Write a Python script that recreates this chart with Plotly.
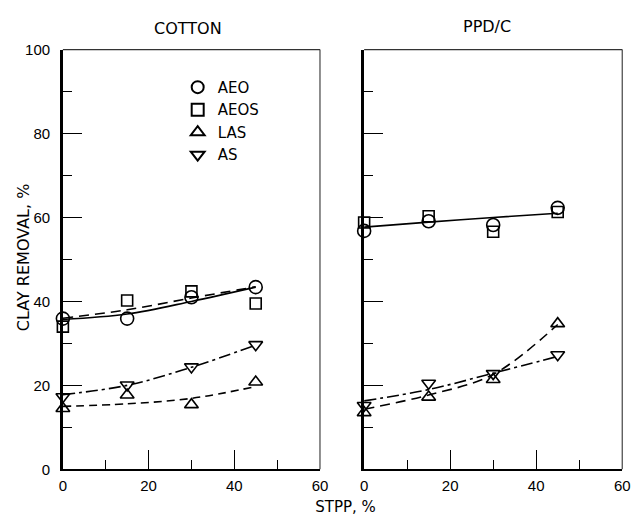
import plotly.graph_objects as go

# ---------------- data ----------------
stpp = [0, 15, 30, 45]

# COTTON panel (measured)
cot_aeo = [35.9, 35.9, 41.0, 43.4]
cot_aeos = [34.0, 40.2, 42.4, 39.5]
cot_las = [14.5, 17.7, 15.4, 20.8]
cot_as = [17.3, 20.1, 24.4, 29.7]
# COTTON panel (fitted curves)
cot_fit_aeo = [35.7, 37.0, 40.0, 43.4]
cot_fit_aeos = [36.0, 38.0, 40.8, 43.5]
cot_fit_las = [15.0, 15.6, 16.9, 19.7]
cot_fit_as = [17.8, 20.0, 24.3, 29.6]

# PPD/C panel (measured)
ppd_aeo = [56.8, 59.1, 58.2, 62.3]
ppd_aeos = [58.8, 60.3, 56.6, 61.3]
ppd_las = [13.5, 17.2, 21.4, 34.7]
ppd_as = [15.2, 20.5, 22.8, 27.3]
# PPD/C panel (fitted curves)
ppd_fit_aeo = [57.7, 58.9, 60.0, 61.0]
ppd_fit_las = [14.3, 17.7, 22.6, 34.5]
ppd_fit_as = [16.3, 19.0, 22.9, 26.9]

series_names = ["AEO", "AEOS", "LAS", "AS"]
symbols = ["circle-open", "square-open", "triangle-up-open", "triangle-down-open"]
sizes = [13, 11, 12, 12]
x_ticks = [0, 20, 40, 60]
y_ticks = [0, 20, 40, 60, 80, 100]

W, H = 642, 515
FONT = "DejaVu Sans"

fig = go.Figure()

DASH_LONG = "10px,6px"
DASH_SHORT = "8px,5px"
DASH_DOT = "12px,4px,3px,4px"

def fit(x, y, xa, ya, dash):
    fig.add_trace(go.Scatter(x=x, y=y, mode="lines", xaxis=xa, yaxis=ya,
                             line=dict(color="black", width=1.6, dash=dash, shape="spline"),
                             showlegend=False, hoverinfo="skip", cliponaxis=False))

fit(stpp, cot_fit_aeo, "x", "y", "solid")
fit(stpp, cot_fit_aeos, "x", "y", DASH_LONG)
fit(stpp, cot_fit_las, "x", "y", DASH_SHORT)
fit(stpp, cot_fit_as, "x", "y", DASH_DOT)
fit(stpp, ppd_fit_aeo, "x2", "y2", "solid")
fit(stpp, ppd_fit_las, "x2", "y2", DASH_LONG)
fit(stpp, ppd_fit_as, "x2", "y2", DASH_DOT)

cot = [cot_aeo, cot_aeos, cot_las, cot_as]
ppd = [ppd_aeo, ppd_aeos, ppd_las, ppd_as]
for i, name in enumerate(series_names):
    mk = dict(symbol=symbols[i], size=sizes[i], color="black", line=dict(color="black", width=1.6))
    fig.add_trace(go.Scatter(x=stpp, y=cot[i], mode="markers", name=name, xaxis="x", yaxis="y",
                             marker=mk, cliponaxis=False, legendgroup=name))
    fig.add_trace(go.Scatter(x=stpp, y=ppd[i], mode="markers", name=name, xaxis="x2", yaxis="y2",
                             marker=mk, cliponaxis=False, legendgroup=name, showlegend=False))

ydom = [1 - 476 / H, 1 - 42 / H]
xdom1 = [60 / W, 322 / W]
xdom2 = [367 / W, 630 / W]

tickfont = dict(family="Liberation Sans", size=15, color="black")

def xaxis(dom, anchor):
    return dict(domain=dom, anchor=anchor, range=[0, 60], tickvals=x_ticks,
                ticks="inside", ticklen=19, tickwidth=1.3, tickcolor="black",
                minor=dict(dtick=10, ticks="inside", ticklen=9, tickwidth=1.3, tickcolor="black"),
                showline=True, linecolor="black", linewidth=2.2, showgrid=False, zeroline=False,
                tickfont=tickfont, ticklabelstandoff=2)

def yaxis(anchor, labels):
    return dict(domain=ydom, anchor=anchor, range=[0, 100], tickvals=y_ticks,
                showticklabels=labels,
                ticks="inside", ticklen=19, tickwidth=1.3, tickcolor="black",
                minor=dict(dtick=10, ticks="inside", ticklen=9, tickwidth=1.3, tickcolor="black"),
                showline=True, linecolor="black", linewidth=2.6, showgrid=False, zeroline=False,
                tickfont=tickfont, ticklabelstandoff=7)

shapes = []
for xr, yr in [("x domain", "y domain"), ("x2 domain", "y2 domain")]:
    shapes.append(dict(type="line", xref=xr, yref=yr, x0=0, x1=1, y0=1, y1=1,
                       line=dict(color="#333", width=1.1)))
    shapes.append(dict(type="line", xref=xr, yref=yr, x0=1, x1=1, y0=0, y1=1,
                       line=dict(color="#333", width=1.1)))

txt = dict(family=FONT, size=16, color="black")
annotations = [
    dict(text="COTTON", x=187 / W, y=1 - 20 / H, xref="paper", yref="paper",
         showarrow=False, font=txt, xanchor="center", yanchor="middle"),
    dict(text="PPD/C", x=492 / W, y=1 - 18 / H, xref="paper", yref="paper",
         showarrow=False, font=txt, xanchor="center", yanchor="middle"),
    dict(text="CLAY REMOVAL, %", x=20 / W, y=1 - 257 / H, xref="paper", yref="paper",
         showarrow=False, font=txt, textangle=-90, xanchor="center", yanchor="middle"),
]

fig.update_layout(
    width=W, height=H, margin=dict(l=0, r=0, t=0, b=0),
    paper_bgcolor="white", plot_bgcolor="white",
    title=dict(text="STPP, %", x=348 / W, xanchor="center", xref="paper",
               y=1 - 507 / H, yanchor="middle", yref="container",
               font=dict(family=FONT, size=15, color="black")),
    xaxis=xaxis(xdom1, "y"), yaxis=yaxis("x", True),
    xaxis2=xaxis(xdom2, "y2"), yaxis2=yaxis("x2", False),
    shapes=shapes, annotations=annotations,
    legend=dict(x=177 / W, y=1 - 64 / H, xanchor="left", yanchor="top",
                bgcolor="rgba(0,0,0,0)", font=dict(family=FONT, size=15, color="black"),
                itemsizing="constant", tracegroupgap=0),
    showlegend=True,
)

fig.write_html("out.html")
